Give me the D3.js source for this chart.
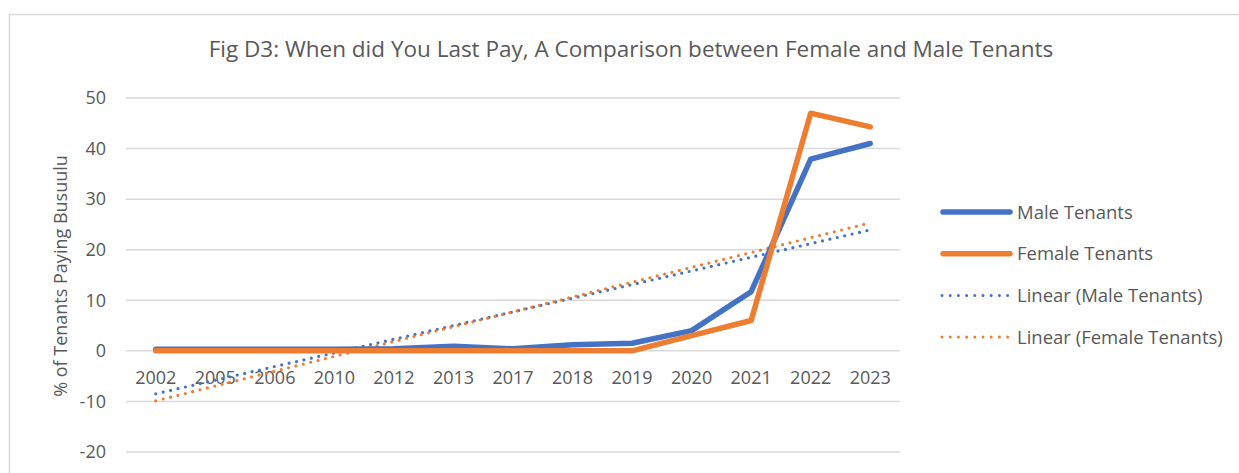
<!DOCTYPE html>
<html><head><meta charset="utf-8">
<script src="https://cdn.jsdelivr.net/npm/d3@7"></script>
<style>body{margin:0;background:#fff;}</style>
</head><body><svg id="c" width="1239" height="473"></svg>
<script>
const categories = ["2002","2005","2006","2010","2012","2013","2017","2018","2019","2020","2021","2022","2023"];
const maleValues = [0.3,0.3,0.3,0.3,0.4,0.9,0.4,1.2,1.5,4.0,11.7,37.9,41.0];
const femaleValues = [0,0,0,0,0,0,0,0,0,3.0,6.0,47.0,44.3];
const yTicks = [-20,-10,0,10,20,30,40,50];
const seriesNames = ["Male Tenants","Female Tenants","Linear (Male Tenants)","Linear (Female Tenants)"];
const colors = {male:"#4472C4", female:"#ED7D31"};
const font = "'Open Sans', sans-serif";
const textColor = "#595959";

const svg = d3.select("#c");
svg.append("rect").attr("x",9.5).attr("y",14.5).attr("width",1300).attr("height",600)
  .attr("fill","#fff").attr("stroke","#d9d9d9").attr("stroke-width",1.5);

const x = d3.scaleBand().domain(categories).range([126,900]);
const y = d3.scaleLinear().domain([-20,50]).range([452,98]);

// gridlines
svg.append("g").selectAll("line").data(yTicks).join("line")
  .attr("x1",126).attr("x2",900).attr("y1",d=>y(d)).attr("y2",d=>y(d))
  .attr("stroke","#d9d9d9").attr("stroke-width",1.5);

// y axis labels
const yAxis = d3.axisLeft(y).tickValues(yTicks).tickSize(0).tickPadding(0).tickFormat(d=>String(d));
const gy = svg.append("g").attr("transform","translate(106,0)").call(yAxis);
gy.select(".domain").remove();
gy.selectAll("text").attr("font-family",font).attr("font-size",18).attr("fill",textColor);

// x axis labels (positioned just below zero line)
const xAxis = d3.axisBottom(x).tickSize(0).tickPadding(0);
const gx = svg.append("g").attr("transform",`translate(0,${y(0)+20})`).call(xAxis);
gx.select(".domain").remove();
gx.selectAll("text").attr("font-family",font).attr("font-size",18).attr("fill",textColor);

// trendlines (least squares, Excel-style on index 1..n)
function linfit(vals){
  const xs=vals.map((_,i)=>i+1);
  const mx=d3.mean(xs), my=d3.mean(vals);
  let sxy=0,sxx=0; xs.forEach((xi,i)=>{sxy+=(xi-mx)*(vals[i]-my); sxx+=(xi-mx)**2;});
  const b=sxy/sxx, a=my-b*mx;
  return xs.map(xi=>a+b*xi);
}
const cx = d => x(d)+x.bandwidth()/2;
const line = d3.line().x((d,i)=>cx(categories[i])).y(d=>y(d));

[[maleValues,colors.male],[femaleValues,colors.female]].forEach(([v,c])=>{
  svg.append("path").attr("d",line(linfit(v))).attr("fill","none").attr("stroke",c)
    .attr("stroke-width",3.2).attr("stroke-linecap","round").attr("stroke-dasharray","0 7.6");
});
svg.append("path").attr("d",line(maleValues)).attr("fill","none").attr("stroke",colors.male)
  .attr("stroke-width",5.5).attr("stroke-linejoin","round").attr("stroke-linecap","round");
svg.append("path").attr("d",line(femaleValues)).attr("fill","none").attr("stroke",colors.female)
  .attr("stroke-width",5.5).attr("stroke-linejoin","round").attr("stroke-linecap","round");

// title
svg.append("text").attr("x",631).attr("y",57).attr("text-anchor","middle")
  .attr("font-family",font).attr("font-size",22.5).attr("fill",textColor)
  .text("Fig D3: When did You Last Pay, A Comparison between Female and Male Tenants");

// y axis title
svg.append("text").attr("transform","translate(67,276) rotate(-90)").attr("text-anchor","middle")
  .attr("font-family",font).attr("font-size",18).attr("fill",textColor)
  .text("% of Tenants Paying Busuulu");

// legend
const lg = svg.append("g");
const legendItems = [
  {name:seriesNames[0],c:colors.male,dash:false},
  {name:seriesNames[1],c:colors.female,dash:false},
  {name:seriesNames[2],c:colors.male,dash:true},
  {name:seriesNames[3],c:colors.female,dash:true}];
legendItems.forEach((d,i)=>{
  const yy = 212 + i*41.7;
  lg.append("line").attr("x1",d.dash?942:943).attr("x2",d.dash?1008:1010).attr("y1",yy).attr("y2",yy)
    .attr("stroke",d.c).attr("stroke-width",d.dash?3:5.5).attr("stroke-linecap","round")
    .attr("stroke-dasharray",d.dash?"0 8.2":null);
  lg.append("text").attr("x",1017).attr("y",yy+6.5).attr("font-family",font).attr("font-size",18.5)
    .attr("fill",textColor).text(d.name);
});
</script></body></html>
